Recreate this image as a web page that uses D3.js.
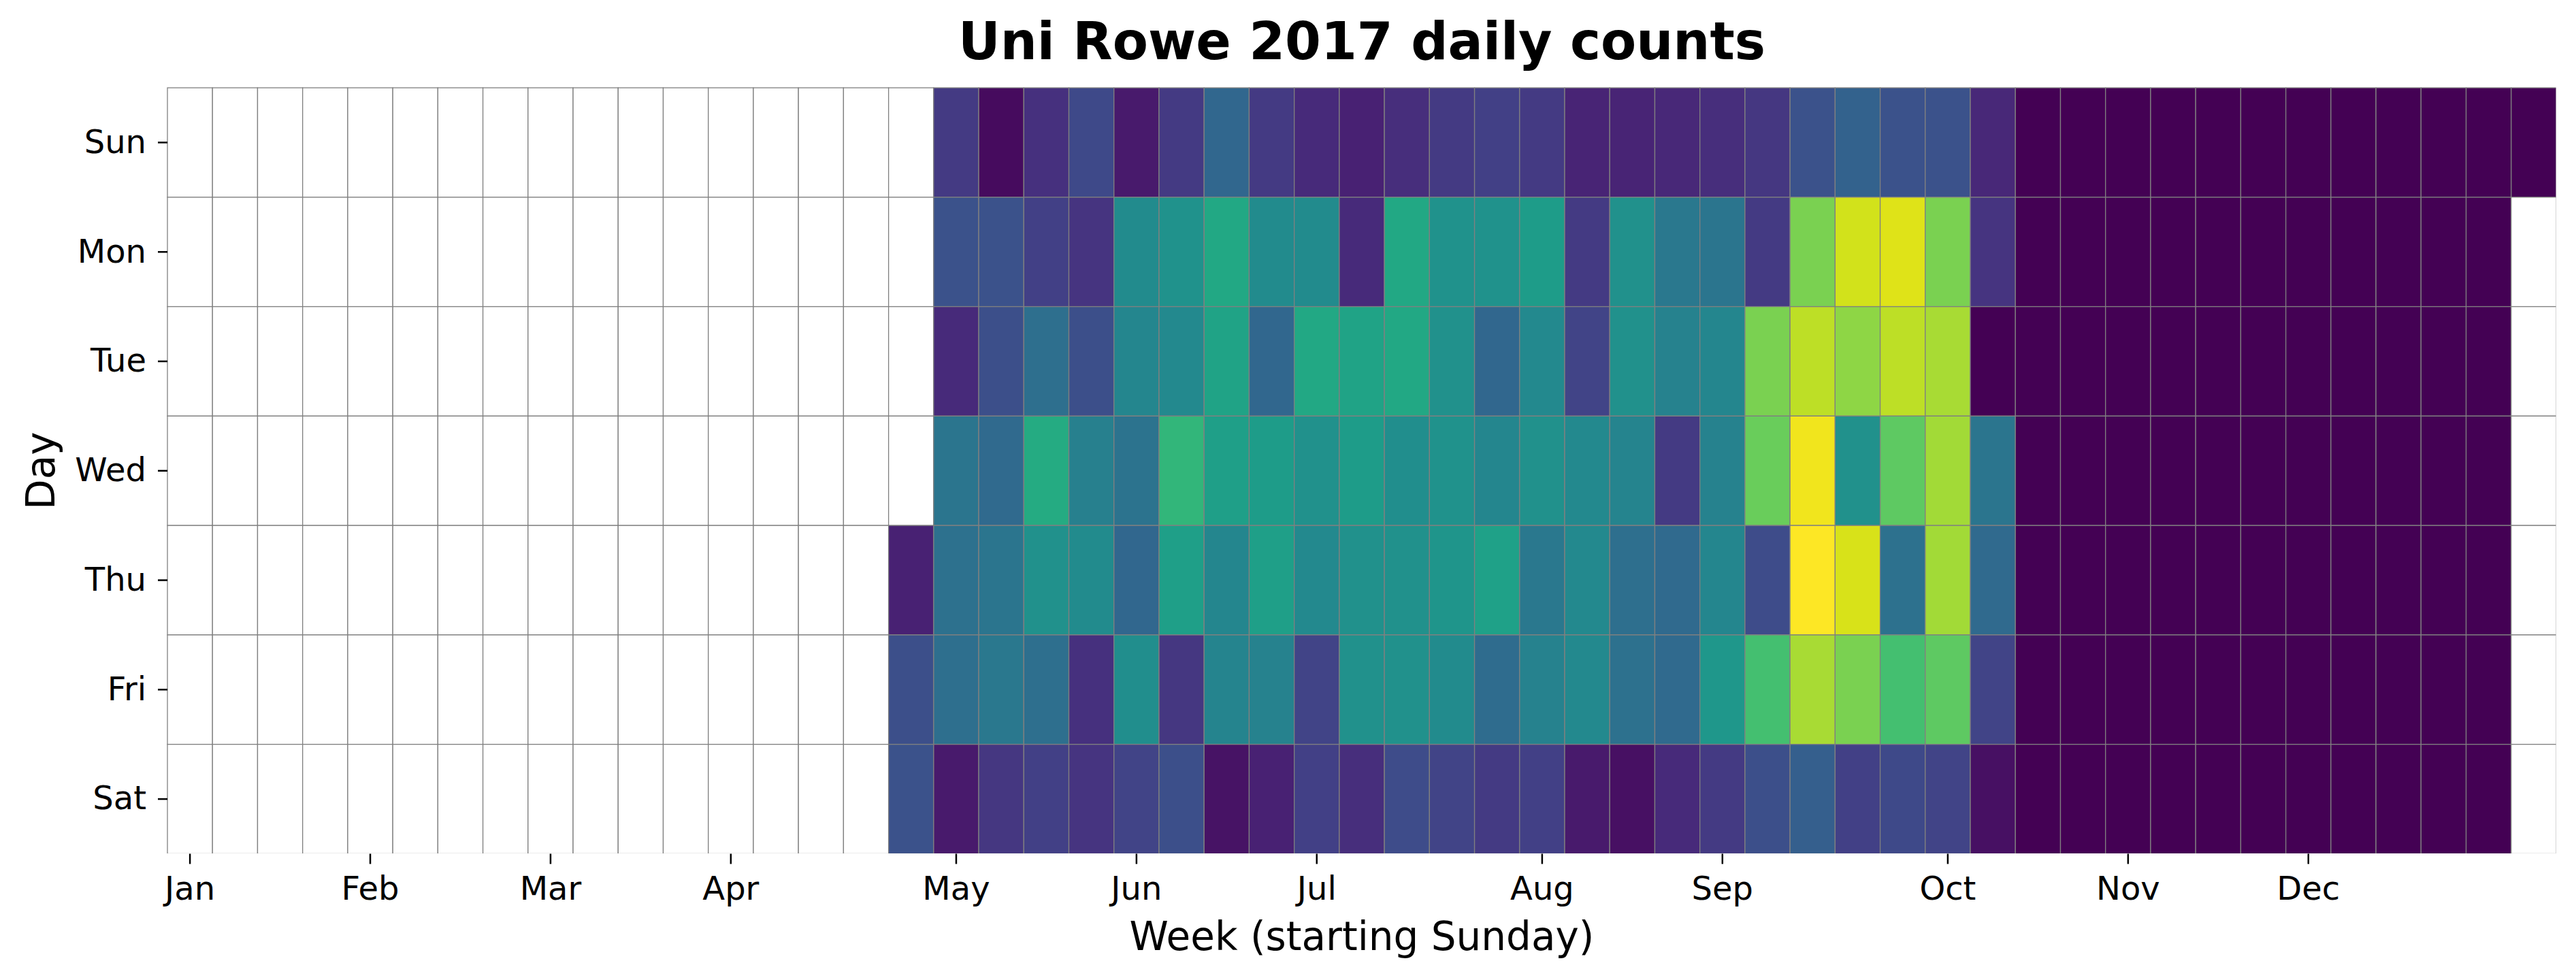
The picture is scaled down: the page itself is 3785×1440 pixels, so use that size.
<!DOCTYPE html>
<html lang="en">
<head>
<meta charset="UTF-8">
<script src="https://d3js.org/d3.v7.min.js"></script>
<title>Uni Rowe 2017 daily counts</title>
<style>
  body { margin: 0; background: #fff; }
  text { font-family: "DejaVu Sans", sans-serif; fill: #000; }
</style>
</head>
<body>
<div id="chart"></div>
<script>

// day rows (week starts Sunday)
var days = ["Sun", "Mon", "Tue", "Wed", "Thu", "Fri", "Sat"];
var months = ["Jan", "Feb", "Mar", "Apr", "May", "Jun", "Jul", "Aug", "Sep", "Oct", "Nov", "Dec"];
var year = 2017;
var nWeeks = 53;
var firstWeek = 16;   // weeks before this have no data

// daily counts by weekday, one value per week from week 16 to week 52
var sun = [null, 170, 30, 140, 220, 70, 170, 330, 170, 120, 90, 130, 170, 190, 170, 100, 100, 110, 130, 160, 250, 310, 250, 250, 110, 0, 0, 0, 0, 0, 0, 0, 0, 0, 0, 0, 0];
var mon = [null, 250, 250, 190, 150, 480, 510, 600, 480, 480, 120, 600, 510, 510, 550, 170, 500, 400, 390, 170, 800, 930, 950, 800, 150, 0, 0, 0, 0, 0, 0, 0, 0, 0, 0, 0, null];
var tue = [null, 120, 240, 360, 240, 460, 470, 580, 330, 600, 580, 600, 500, 330, 470, 200, 500, 440, 460, 800, 900, 830, 900, 870, 0, 0, 0, 0, 0, 0, 0, 0, 0, 0, 0, 0, null];
var wed = [null, 390, 340, 610, 430, 380, 660, 560, 550, 500, 550, 490, 510, 460, 500, 470, 450, 170, 440, 770, 980, 500, 750, 860, 390, 0, 0, 0, 0, 0, 0, 0, 0, 0, 0, 0, null];
var thu = [90, 370, 390, 500, 480, 330, 560, 460, 560, 470, 500, 500, 520, 570, 400, 470, 360, 340, 460, 230, 1000, 940, 370, 860, 340, 0, 0, 0, 0, 0, 0, 0, 0, 0, 0, 0, null];
var fri = [240, 360, 400, 360, 140, 490, 160, 450, 440, 200, 500, 500, 480, 350, 440, 470, 370, 340, 530, 700, 870, 800, 700, 750, 200, 0, 0, 0, 0, 0, 0, 0, 0, 0, 0, 0, null];
var sat = [250, 70, 160, 190, 150, 200, 240, 50, 90, 190, 130, 230, 200, 170, 190, 70, 40, 120, 170, 240, 300, 190, 220, 200, 40, 0, 0, 0, 0, 0, 0, 0, 0, 0, 0, 0, null];

var rows = [sun, mon, tue, wed, thu, fri, sat];

// build the cell table: one entry per (week, weekday)
var cells = [];
for (var w = 0; w < nWeeks; w++) {
  days.forEach(function(day, i) {
    var v = w >= firstWeek ? rows[i][w - firstWeek] : null;
    cells.push({week: w, day: day, value: v});
  });
}

var width = 3785, height = 1440;
var margin = {top: 129, right: 29, bottom: 185.5, left: 246};

var svg = d3.select("#chart")
  .append("svg")
    .attr("width", width)
    .attr("height", height);

var x = d3.scaleBand()
  .domain(d3.range(nWeeks))
  .range([margin.left, width - margin.right]);

var y = d3.scaleBand()
  .domain(days)
  .range([margin.top, height - margin.bottom]);

var color = d3.scaleSequential(d3.interpolateViridis)
  .domain([0, d3.max(cells, function(d) { return d.value; })]);

// clip so the outer right/bottom cell edges fall away like in the original
svg.append("clipPath")
    .attr("id", "plotclip")
  .append("rect")
    .attr("x", margin.left - 2)
    .attr("y", margin.top - 2)
    .attr("width", x.range()[1] - margin.left + 1.5)
    .attr("height", y.range()[1] - margin.top + 1.5);

svg.append("g")
    .attr("clip-path", "url(#plotclip)")
  .selectAll("rect")
  .data(cells)
  .enter()
  .append("rect")
    .attr("x", function(d) { return x(d.week); })
    .attr("y", function(d) { return y(d.day); })
    .attr("width", x.bandwidth())
    .attr("height", y.bandwidth())
    .attr("fill", function(d) { return d.value == null ? "#ffffff" : color(d.value); })
    .attr("stroke", "#808080")
    .attr("stroke-width", 1.3);

// y axis: weekday labels
var yAxis = svg.append("g")
  .attr("transform", "translate(" + margin.left + ",0)")
  .call(d3.axisLeft(y).tickSize(14).tickPadding(17));
yAxis.select(".domain").remove();
yAxis.selectAll(".tick line").attr("stroke", "#000").attr("stroke-width", 2.5);
yAxis.selectAll(".tick text").style("font-size", "48px").attr("font-family", "DejaVu Sans");

// x axis: month ticks at the week holding the 1st of each month
var jan1 = new Date(Date.UTC(year, 0, 1));
var monthWeeks = months.map(function(m, i) {
  return d3.utcSunday.count(jan1, new Date(Date.UTC(year, i, 1)));
});
var xAxis = svg.append("g")
  .attr("transform", "translate(0," + y.range()[1] + ")")
  .call(d3.axisBottom(x)
    .tickValues(monthWeeks)
    .tickFormat(function(d, i) { return months[i]; })
    .tickSize(15)
    .tickPadding(18));
xAxis.select(".domain").remove();
xAxis.selectAll(".tick line").attr("stroke", "#000").attr("stroke-width", 2.5);
xAxis.selectAll(".tick text").style("font-size", "48px").attr("font-family", "DejaVu Sans");

// title and axis labels
svg.append("text")
  .attr("x", (margin.left + x.range()[1]) / 2)
  .attr("y", 87)
  .attr("text-anchor", "middle")
  .style("font-size", "76px")
  .style("font-weight", "bold")
  .text("Uni Rowe 2017 daily counts");

svg.append("text")
  .attr("x", (margin.left + x.range()[1]) / 2)
  .attr("y", 1396)
  .attr("text-anchor", "middle")
  .style("font-size", "58px")
  .text("Week (starting Sunday)");

svg.append("text")
  .attr("transform", "translate(80," + (margin.top + y.range()[1]) / 2 + ") rotate(-90)")
  .attr("text-anchor", "middle")
  .style("font-size", "58px")
  .text("Day");

</script>
</body>
</html>
